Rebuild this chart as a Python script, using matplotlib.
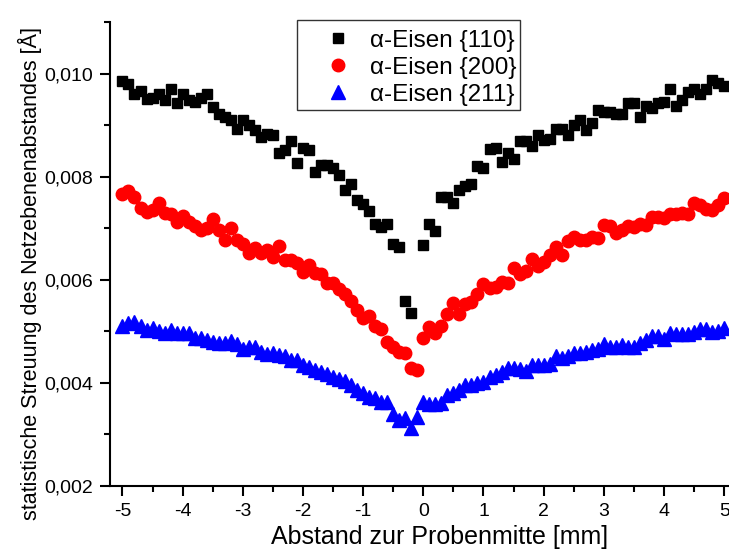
import numpy as np
import matplotlib
matplotlib.use("Agg")
import matplotlib.pyplot as plt
from matplotlib.patches import Rectangle
from matplotlib.ticker import MultipleLocator, FuncFormatter

plt.rcParams['font.family'] = ['Liberation Sans', 'DejaVu Sans']

# Abstand zur Probenmitte [mm], Raster 0.1 mm
x_links_110 = np.round(np.arange(-5.0, -0.15, 0.1), 1)   # -5.0 .. -0.2
x_links = np.round(np.arange(-5.0, -0.05, 0.1), 1)       # -5.0 .. -0.1
x_rechts = np.round(np.arange(0.0, 5.05, 0.1), 1)        # 0.0 .. 5.0

# alpha-Eisen {110}
s110_links = [0.00985, 0.00979, 0.00961, 0.00967, 0.00951, 0.00953, 0.00961, 0.00948, 0.00971, 0.00943,
              0.00961, 0.00948, 0.00945, 0.00953, 0.00961, 0.00935, 0.00922, 0.00915, 0.00909, 0.00893,
              0.00909, 0.00900, 0.00890, 0.00877, 0.00883, 0.00880, 0.00846, 0.00852, 0.00869, 0.00827,
              0.00856, 0.00851, 0.00809, 0.00823, 0.00822, 0.00816, 0.00803, 0.00774, 0.00785, 0.00754,
              0.00747, 0.00734, 0.00709, 0.00703, 0.00709, 0.00669, 0.00663, 0.00559, 0.00536]
s110_rechts = [0.00667, 0.00708, 0.00695, 0.00761, 0.00760, 0.00748, 0.00774, 0.00781, 0.00785, 0.00820,
               0.00816, 0.00854, 0.00856, 0.00829, 0.00845, 0.00834, 0.00869, 0.00869, 0.00859, 0.00880,
               0.00871, 0.00874, 0.00893, 0.00893, 0.00880, 0.00900, 0.00910, 0.00890, 0.00904, 0.00930,
               0.00925, 0.00925, 0.00921, 0.00921, 0.00943, 0.00942, 0.00915, 0.00938, 0.00934, 0.00942,
               0.00945, 0.00971, 0.00938, 0.00949, 0.00964, 0.00971, 0.00961, 0.00971, 0.00988, 0.00982,
               0.00975]

# alpha-Eisen {200}
s200_links = [0.00766, 0.00772, 0.00760, 0.00740, 0.00732, 0.00735, 0.00748, 0.00730, 0.00728, 0.00712,
              0.00723, 0.00712, 0.00704, 0.00696, 0.00701, 0.00717, 0.00697, 0.00678, 0.00701, 0.00677,
              0.00669, 0.00652, 0.00661, 0.00652, 0.00657, 0.00644, 0.00665, 0.00638, 0.00639, 0.00633,
              0.00615, 0.00628, 0.00613, 0.00611, 0.00593, 0.00593, 0.00583, 0.00572, 0.00559, 0.00542,
              0.00525, 0.00529, 0.00510, 0.00504, 0.00480, 0.00470, 0.00460, 0.00458, 0.00428, 0.00425]
s200_rechts = [0.00488, 0.00509, 0.00497, 0.00511, 0.00533, 0.00554, 0.00533, 0.00553, 0.00557, 0.00573,
               0.00591, 0.00585, 0.00586, 0.00596, 0.00593, 0.00622, 0.00612, 0.00617, 0.00641, 0.00626,
               0.00635, 0.00648, 0.00663, 0.00648, 0.00675, 0.00683, 0.00678, 0.00678, 0.00683, 0.00682,
               0.00706, 0.00704, 0.00690, 0.00697, 0.00704, 0.00703, 0.00708, 0.00706, 0.00721, 0.00722,
               0.00719, 0.00727, 0.00728, 0.00730, 0.00728, 0.00748, 0.00745, 0.00738, 0.00736, 0.00745,
               0.00758]

# alpha-Eisen {211}
s211_links = [0.00510, 0.00516, 0.00518, 0.00510, 0.00502, 0.00506, 0.00501, 0.00497, 0.00502, 0.00497,
              0.00496, 0.00497, 0.00488, 0.00488, 0.00484, 0.00480, 0.00477, 0.00478, 0.00482, 0.00475,
              0.00465, 0.00470, 0.00470, 0.00460, 0.00457, 0.00458, 0.00454, 0.00452, 0.00444, 0.00444,
              0.00434, 0.00431, 0.00425, 0.00422, 0.00417, 0.00412, 0.00407, 0.00404, 0.00396, 0.00386,
              0.00380, 0.00373, 0.00370, 0.00363, 0.00363, 0.00340, 0.00328, 0.00331, 0.00312, 0.00334]
s211_rechts = [0.00363, 0.00360, 0.00360, 0.00361, 0.00376, 0.00380, 0.00386, 0.00396, 0.00396, 0.00400,
               0.00402, 0.00411, 0.00415, 0.00422, 0.00428, 0.00428, 0.00426, 0.00423, 0.00434, 0.00434,
               0.00434, 0.00436, 0.00452, 0.00449, 0.00452, 0.00458, 0.00458, 0.00460, 0.00464, 0.00465,
               0.00475, 0.00470, 0.00470, 0.00473, 0.00469, 0.00470, 0.00478, 0.00483, 0.00491, 0.00491,
               0.00486, 0.00496, 0.00495, 0.00495, 0.00495, 0.00499, 0.00504, 0.00504, 0.00499, 0.00501,
               0.00506]

x110 = np.concatenate([x_links_110, x_rechts])
y110 = s110_links + s110_rechts
x200 = np.concatenate([x_links, x_rechts])
y200 = s200_links + s200_rechts
y211 = s211_links + s211_rechts

fig = plt.figure(figsize=(7.29, 5.56), dpi=100)
ax = fig.add_axes([110/729, 70/556, 619/729, 464/556])

ax.plot(x110, y110, 's', color='black', markersize=7.5, label='α-Eisen {110}')
ax.plot(x200, y200, 'o', color='red', markersize=9, label='α-Eisen {200}')
ax.plot(x200, y211, '^', color='blue', markersize=9.5, label='α-Eisen {211}')

ax.set_xlim(-5.207, 5.08)
ax.set_ylim(0.002, 0.011)

ax.spines['top'].set_visible(False)
ax.spines['right'].set_visible(False)
ax.spines['left'].set_linewidth(1.5)
ax.spines['bottom'].set_linewidth(1.5)

ax.xaxis.set_major_locator(MultipleLocator(1))
ax.xaxis.set_minor_locator(MultipleLocator(0.5))
ax.yaxis.set_major_locator(MultipleLocator(0.002))
ax.yaxis.set_minor_locator(MultipleLocator(0.001))
ax.yaxis.set_major_formatter(FuncFormatter(lambda v, p: f"{v:.3f}".replace('.', ',')))
ax.xaxis.set_major_formatter(FuncFormatter(lambda v, p: f"{v:.0f}"))

ax.tick_params(which='major', direction='out', length=7, width=1.5, labelsize=14, pad=5)
ax.tick_params(which='minor', direction='out', length=4, width=1.5)

ax.set_xlabel('Abstand zur Probenmitte [mm]', fontsize=18)
ax.set_ylabel('statistische Streuung des Netzebenenabstandes [Å]', fontsize=15.5)
ax.xaxis.set_label_coords(0.533, -0.085)
ax.yaxis.set_label_coords(-0.11, 0.458)

# Legende ohne eigenen Rahmen, Rahmen separat (engerer Abstand rechts)
leg = ax.legend(loc='upper left', bbox_to_anchor=(0.30, 1.0093), fontsize=17.5, frameon=False,
                borderpad=0.5, handletextpad=0.12, labelspacing=0.2, handlelength=2.45,
                borderaxespad=0.0)
fig.add_artist(Rectangle((297/729, 1 - 110/556), 223/729, 90/556, transform=fig.transFigure,
                         fill=False, edgecolor='#333333', linewidth=1.0))

fig.savefig('out.png', dpi=100)
